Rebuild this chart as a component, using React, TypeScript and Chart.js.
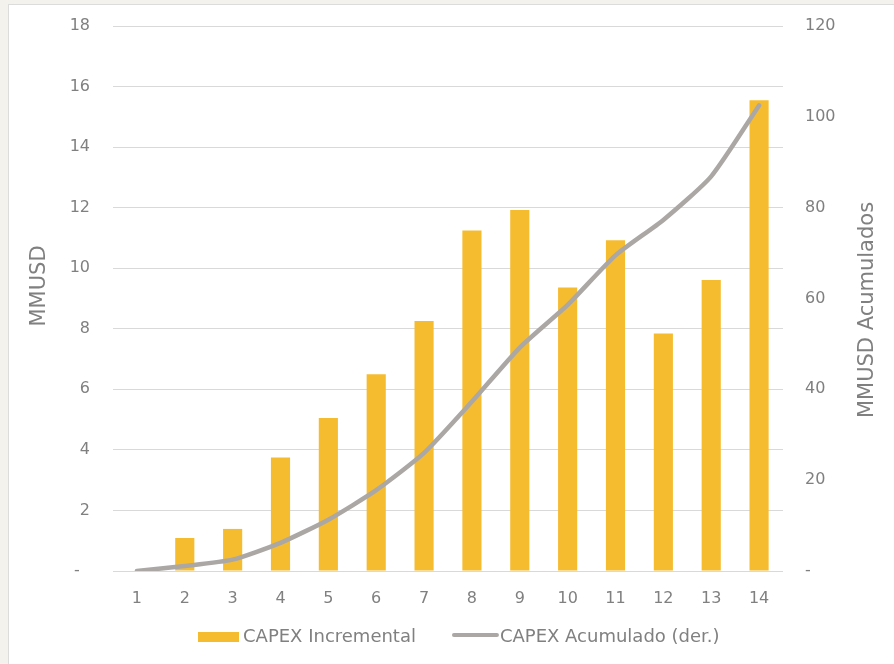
import React, { useEffect, useRef } from "react";
import { Chart, registerables } from "chart.js";

Chart.register(...registerables);

const categories = ["1", "2", "3", "4", "5", "6", "7", "8", "9", "10", "11", "12", "13", "14"];
const capexIncremental = [0, 1.09, 1.39, 3.75, 5.05, 6.5, 8.26, 11.25, 11.92, 9.36, 10.92, 7.84, 9.61, 15.55];
const capexAcumulado = [0, 1.1, 2.5, 6.2, 11.3, 17.8, 26.0, 37.3, 49.2, 58.6, 69.5, 77.3, 86.9, 102.5];
const leftTitle = "MMUSD";
const rightTitle = "MMUSD Acumulados";
const barLabel = "CAPEX Incremental";
const lineLabel = "CAPEX Acumulado (der.)";

const FONT = "'DejaVu Sans', sans-serif";
const TEXT = "#808080";
const BAR = "#F6BC30";
const LINE = "#AAA7A4";

const decorPlugin = {
  id: "decor",
  afterDraw(chart: any) {
    const ctx = chart.ctx;
    ctx.save();
    ctx.fillStyle = TEXT;
    ctx.font = `21px ${FONT}`;
    ctx.textAlign = "center";
    ctx.textBaseline = "middle";
    ctx.save();
    ctx.translate(31, 281);
    ctx.rotate(-Math.PI / 2);
    ctx.fillText(leftTitle, 0, 0);
    ctx.restore();
    ctx.save();
    ctx.translate(859, 305);
    ctx.rotate(-Math.PI / 2);
    ctx.fillText(rightTitle, 0, 0);
    ctx.restore();

    // legend
    ctx.font = `18px ${FONT}`;
    ctx.textAlign = "left";
    const y = 632;
    let x = 189;
    ctx.fillStyle = BAR;
    ctx.fillRect(x, y - 5, 41, 10);
    x += 45;
    ctx.fillStyle = TEXT;
    ctx.fillText(barLabel, x, y);
    x += ctx.measureText(barLabel).width + 36;
    ctx.strokeStyle = LINE;
    ctx.lineWidth = 4;
    ctx.lineCap = "round";
    ctx.beginPath();
    ctx.moveTo(x + 2, y - 2);
    ctx.lineTo(x + 45, y - 2);
    ctx.stroke();
    x += 48;
    ctx.fillText(lineLabel, x, y);
    ctx.restore();
  },
};

export default function App() {
  const ref = useRef<HTMLCanvasElement>(null);
  useEffect(() => {
    document.body.style.background = "#f3f2ed";
    const chart = new Chart(ref.current!, {
      type: "bar",
      data: {
        labels: categories,
        datasets: [
          {
            type: "line",
            label: lineLabel,
            data: capexAcumulado,
            yAxisID: "y2",
            borderColor: LINE,
            backgroundColor: LINE,
            borderWidth: 4.5,
            pointRadius: 0,
            tension: 0.2,
            borderCapStyle: "round",
            order: 0,
          } as any,
          {
            type: "bar",
            label: barLabel,
            data: capexIncremental,
            yAxisID: "y",
            backgroundColor: BAR,
            barPercentage: 0.5,
            categoryPercentage: 0.8,
            order: 1,
          },
        ],
      },
      options: {
        responsive: false,
        animation: false,
        devicePixelRatio: 1,
        layout: { padding: { top: 21, left: 0, right: 0, bottom: 0 } },
        plugins: { legend: { display: false }, tooltip: { enabled: false } },
        scales: {
          x: {
            grid: { display: false },
            border: { display: false },
            ticks: { color: TEXT, font: { family: FONT, size: 16 }, padding: 10, maxRotation: 0 },
            afterFit(s: any) {
              s.height = 93;
            },
          },
          y: {
            position: "left",
            min: 0,
            max: 18,
            grid: { color: "#d9d9d9", lineWidth: 1, drawTicks: false },
            border: { display: false },
            ticks: {
              stepSize: 2,
              color: TEXT,
              font: { family: FONT, size: 16 },
              padding: 23,
              callback: (v: any) => (v === 0 ? "-  " : String(v)),
            },
            afterFit(s: any) {
              s.width = 104;
              s.paddingTop = 10;
              s.paddingBottom = 10;
            },
          },
          y2: {
            position: "right",
            min: 0,
            max: 120,
            grid: { display: false, drawTicks: false },
            border: { display: false },
            ticks: {
              stepSize: 20,
              color: TEXT,
              font: { family: FONT, size: 16 },
              padding: 22,
              callback: (v: any) => (v === 0 ? "-" : String(v)),
            },
            afterFit(s: any) {
              s.width = 111;
              s.paddingTop = 10;
              s.paddingBottom = 10;
            },
          },
        },
      },
      plugins: [decorPlugin],
    });
    return () => chart.destroy();
  }, []);
  return (
    <div
      style={{
        position: "absolute",
        left: 8,
        top: 4,
        width: 885,
        height: 659,
        background: "#ffffff",
        borderLeft: "1px solid #dcdcdc",
        borderTop: "1px solid #dcdcdc",
      }}
    >
      <canvas ref={ref} width={885} height={659} style={{ display: "block" }} />
    </div>
  );
}
